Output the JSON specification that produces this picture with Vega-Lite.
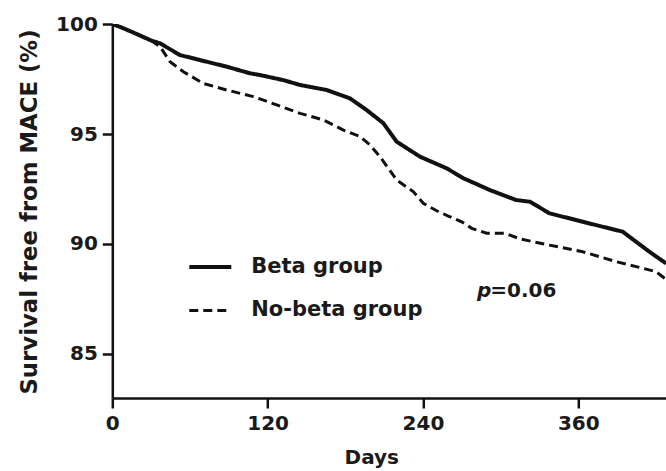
{
  "$schema": "https://vega.github.io/schema/vega-lite/v6.json",
  "width": 554,
  "height": 374,
  "autosize": {"type": "none"},
  "padding": {"left": 112.3, "top": 24, "right": 0, "bottom": 73},
  "background": "white",
  "config": {
    "view": {"stroke": null},
    "font": "DejaVu Sans",
    "axis": {
      "domainColor": "#111111",
      "domainWidth": 2.5,
      "tickColor": "#111111",
      "tickWidth": 2.5,
      "tickSize": 10,
      "grid": false,
      "labelFont": "DejaVu Sans",
      "labelFontSize": 20,
      "labelFontWeight": "bold",
      "labelColor": "#1a1a1a",
      "titleFont": "DejaVu Sans",
      "titleFontWeight": "bold",
      "titleColor": "#1a1a1a"
    },
    "legend": {
      "orient": "none",
      "legendX": 75,
      "legendY": 220,
      "padding": 0,
      "title": null,
      "symbolType": "stroke",
      "symbolSize": 1764,
      "symbolStrokeColor": "#111111",
      "labelFont": "DejaVu Sans",
      "labelFontSize": 21,
      "labelFontWeight": "bold",
      "labelColor": "#1a1a1a",
      "labelOffset": 18,
      "labelLimit": 0,
      "rowPadding": 11
    }
  },
  "datasets": {
    "km": [
      {"day": 0, "surv": 100, "group": "Beta group"},
      {"day": 8, "surv": 99.82, "group": "Beta group"},
      {"day": 17.5, "surv": 99.58, "group": "Beta group"},
      {"day": 30, "surv": 99.25, "group": "Beta group"},
      {"day": 36.9, "surv": 99.12, "group": "Beta group"},
      {"day": 52.3, "surv": 98.59, "group": "Beta group"},
      {"day": 67.8, "surv": 98.36, "group": "Beta group"},
      {"day": 88.4, "surv": 98.06, "group": "Beta group"},
      {"day": 106.3, "surv": 97.76, "group": "Beta group"},
      {"day": 114.1, "surv": 97.68, "group": "Beta group"},
      {"day": 132.1, "surv": 97.45, "group": "Beta group"},
      {"day": 145, "surv": 97.23, "group": "Beta group"},
      {"day": 165.6, "surv": 97.0, "group": "Beta group"},
      {"day": 183.6, "surv": 96.62, "group": "Beta group"},
      {"day": 196.5, "surv": 96.09, "group": "Beta group"},
      {"day": 209.4, "surv": 95.49, "group": "Beta group"},
      {"day": 219.7, "surv": 94.65, "group": "Beta group"},
      {"day": 237.7, "surv": 93.97, "group": "Beta group"},
      {"day": 258.3, "surv": 93.44, "group": "Beta group"},
      {"day": 271.2, "surv": 92.99, "group": "Beta group"},
      {"day": 291.8, "surv": 92.45, "group": "Beta group"},
      {"day": 311.9, "surv": 92.0, "group": "Beta group"},
      {"day": 322.7, "surv": 91.92, "group": "Beta group"},
      {"day": 337.6, "surv": 91.4, "group": "Beta group"},
      {"day": 363.4, "surv": 91.01, "group": "Beta group"},
      {"day": 394.3, "surv": 90.56, "group": "Beta group"},
      {"day": 414.9, "surv": 89.65, "group": "Beta group"},
      {"day": 427.8, "surv": 89.12, "group": "Beta group"},
      {"day": 0, "surv": 100, "group": "No-beta group"},
      {"day": 8, "surv": 99.82, "group": "No-beta group"},
      {"day": 17.5, "surv": 99.58, "group": "No-beta group"},
      {"day": 30, "surv": 99.25, "group": "No-beta group"},
      {"day": 36.9, "surv": 98.97, "group": "No-beta group"},
      {"day": 44.6, "surv": 98.29, "group": "No-beta group"},
      {"day": 54.9, "surv": 97.83, "group": "No-beta group"},
      {"day": 70.3, "surv": 97.3, "group": "No-beta group"},
      {"day": 88.4, "surv": 97.0, "group": "No-beta group"},
      {"day": 108.9, "surv": 96.7, "group": "No-beta group"},
      {"day": 127, "surv": 96.32, "group": "No-beta group"},
      {"day": 145, "surv": 95.94, "group": "No-beta group"},
      {"day": 163, "surv": 95.64, "group": "No-beta group"},
      {"day": 178.5, "surv": 95.18, "group": "No-beta group"},
      {"day": 191.4, "surv": 94.88, "group": "No-beta group"},
      {"day": 199.1, "surv": 94.5, "group": "No-beta group"},
      {"day": 206.8, "surv": 93.97, "group": "No-beta group"},
      {"day": 219.7, "surv": 92.91, "group": "No-beta group"},
      {"day": 232.5, "surv": 92.38, "group": "No-beta group"},
      {"day": 240.3, "surv": 91.85, "group": "No-beta group"},
      {"day": 250.6, "surv": 91.51, "group": "No-beta group"},
      {"day": 259.6, "surv": 91.27, "group": "No-beta group"},
      {"day": 269.9, "surv": 91.01, "group": "No-beta group"},
      {"day": 277.7, "surv": 90.71, "group": "No-beta group"},
      {"day": 289.2, "surv": 90.49, "group": "No-beta group"},
      {"day": 303.4, "surv": 90.49, "group": "No-beta group"},
      {"day": 315, "surv": 90.23, "group": "No-beta group"},
      {"day": 337.6, "surv": 89.95, "group": "No-beta group"},
      {"day": 363.4, "surv": 89.65, "group": "No-beta group"},
      {"day": 389.1, "surv": 89.2, "group": "No-beta group"},
      {"day": 409.8, "surv": 88.9, "group": "No-beta group"},
      {"day": 420, "surv": 88.74, "group": "No-beta group"},
      {"day": 425.2, "surv": 88.51, "group": "No-beta group"},
      {"day": 427.8, "surv": 88.4, "group": "No-beta group"}
    ]
  },
  "layer": [
    {
      "data": {"name": "km"},
      "mark": {"type": "line", "clip": true, "color": "#111111", "strokeCap": "butt"},
      "encoding": {
        "x": {
          "field": "day",
          "type": "quantitative",
          "scale": {"domain": [0, 428], "nice": false, "zero": false},
          "axis": {
            "values": [0, 120, 240, 360],
            "title": "Days",
            "titleFontSize": 20,
            "titleX": 259,
            "titleY": 66,
            "titleBaseline": "alphabetic",
            "titleAnchor": null,
            "labelPadding": 6,
            "labelFlush": false
          }
        },
        "y": {
          "field": "surv",
          "type": "quantitative",
          "scale": {"domain": [83, 100], "nice": false, "zero": false},
          "axis": {
            "values": [85, 90, 95, 100],
            "title": "Survival free from MACE (%)",
            "titleFontSize": 22.8,
            "titleX": -76,
            "titleY": 187.5,
            "titleAngle": -90,
            "titleAlign": "center",
            "titleBaseline": "alphabetic",
            "labelPadding": 5
          }
        },
        "strokeDash": {
          "field": "group",
          "type": "nominal",
          "scale": {"domain": ["Beta group", "No-beta group"], "range": [[1, 0], [9, 5]]}
        },
        "strokeWidth": {
          "field": "group",
          "type": "nominal",
          "scale": {"domain": ["Beta group", "No-beta group"], "range": [4, 3]}
        }
      }
    },
    {
      "data": {"values": [{"day": 292, "surv": 87.6, "label": "p"}]},
      "mark": {"type": "text", "align": "right", "baseline": "alphabetic", "fontSize": 20, "fontStyle": "italic", "fontWeight": "bold", "color": "#1a1a1a", "dx": 1},
      "encoding": {
        "x": {"field": "day", "type": "quantitative"},
        "y": {"field": "surv", "type": "quantitative"},
        "text": {"field": "label"}
      }
    },
    {
      "data": {"values": [{"day": 292, "surv": 87.6, "label": "=0.06"}]},
      "mark": {"type": "text", "align": "left", "baseline": "alphabetic", "fontSize": 20, "fontWeight": "bold", "color": "#1a1a1a"},
      "encoding": {
        "x": {"field": "day", "type": "quantitative"},
        "y": {"field": "surv", "type": "quantitative"},
        "text": {"field": "label"}
      }
    }
  ]
}
